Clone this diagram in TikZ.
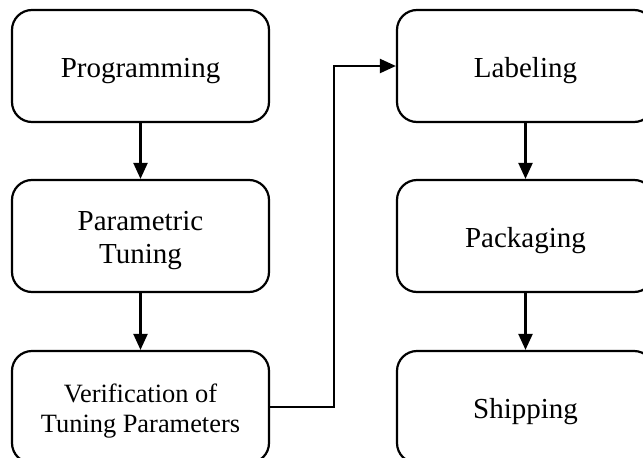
\documentclass[tikz,border=0pt]{standalone}
\usepackage{fontspec}
\setmainfont{Liberation Serif}
\usetikzlibrary{arrows.meta}
\newcommand{\boxtext}[1]{\raisebox{-4.5pt}[\height][\depth]{\begin{tabular}{@{}c@{}}#1\end{tabular}}}
\tikzset{
  stage/.style={draw=black, line width=2.2pt, rounded corners=20pt, minimum width=257pt, minimum height=112pt, inner sep=2pt, font=\fontsize{29}{33}\selectfont},
  smalltext/.style={font=\fontsize{26.4}{30}\selectfont},
  flow/.style={line width=2.2pt, -{Triangle[length=16pt,width=14pt]}}
}
\begin{document}
\begin{tikzpicture}[x=1pt,y=1pt]
\useasboundingbox (0,0) rectangle (643,-458);
\fill[white] (0,0) rectangle (643,-458);
\clip (0,0) rectangle (643,-458);
\node[stage] (prog) at (140.5,-66) {\boxtext{Programming}};
\node[stage] (param) at (140.5,-236) {\boxtext{Parametric\\Tuning}};
\node[stage, smalltext] (verif) at (140.5,-407) {\boxtext{Verification of\\Tuning Parameters}};
\node[stage] (lab) at (525.5,-66) {\boxtext{Labeling}};
\node[stage] (pack) at (525.5,-236) {\boxtext{Packaging}};
\node[stage] (ship) at (525.5,-407) {\boxtext{Shipping}};
\draw[flow] (prog) -- (param);
\draw[flow] (param) -- (verif);
\draw[flow] (lab) -- (pack);
\draw[flow] (pack) -- (ship);
\draw[flow] (verif.east) -- ++(64,0) |- (lab.west);
\end{tikzpicture}
\end{document}
